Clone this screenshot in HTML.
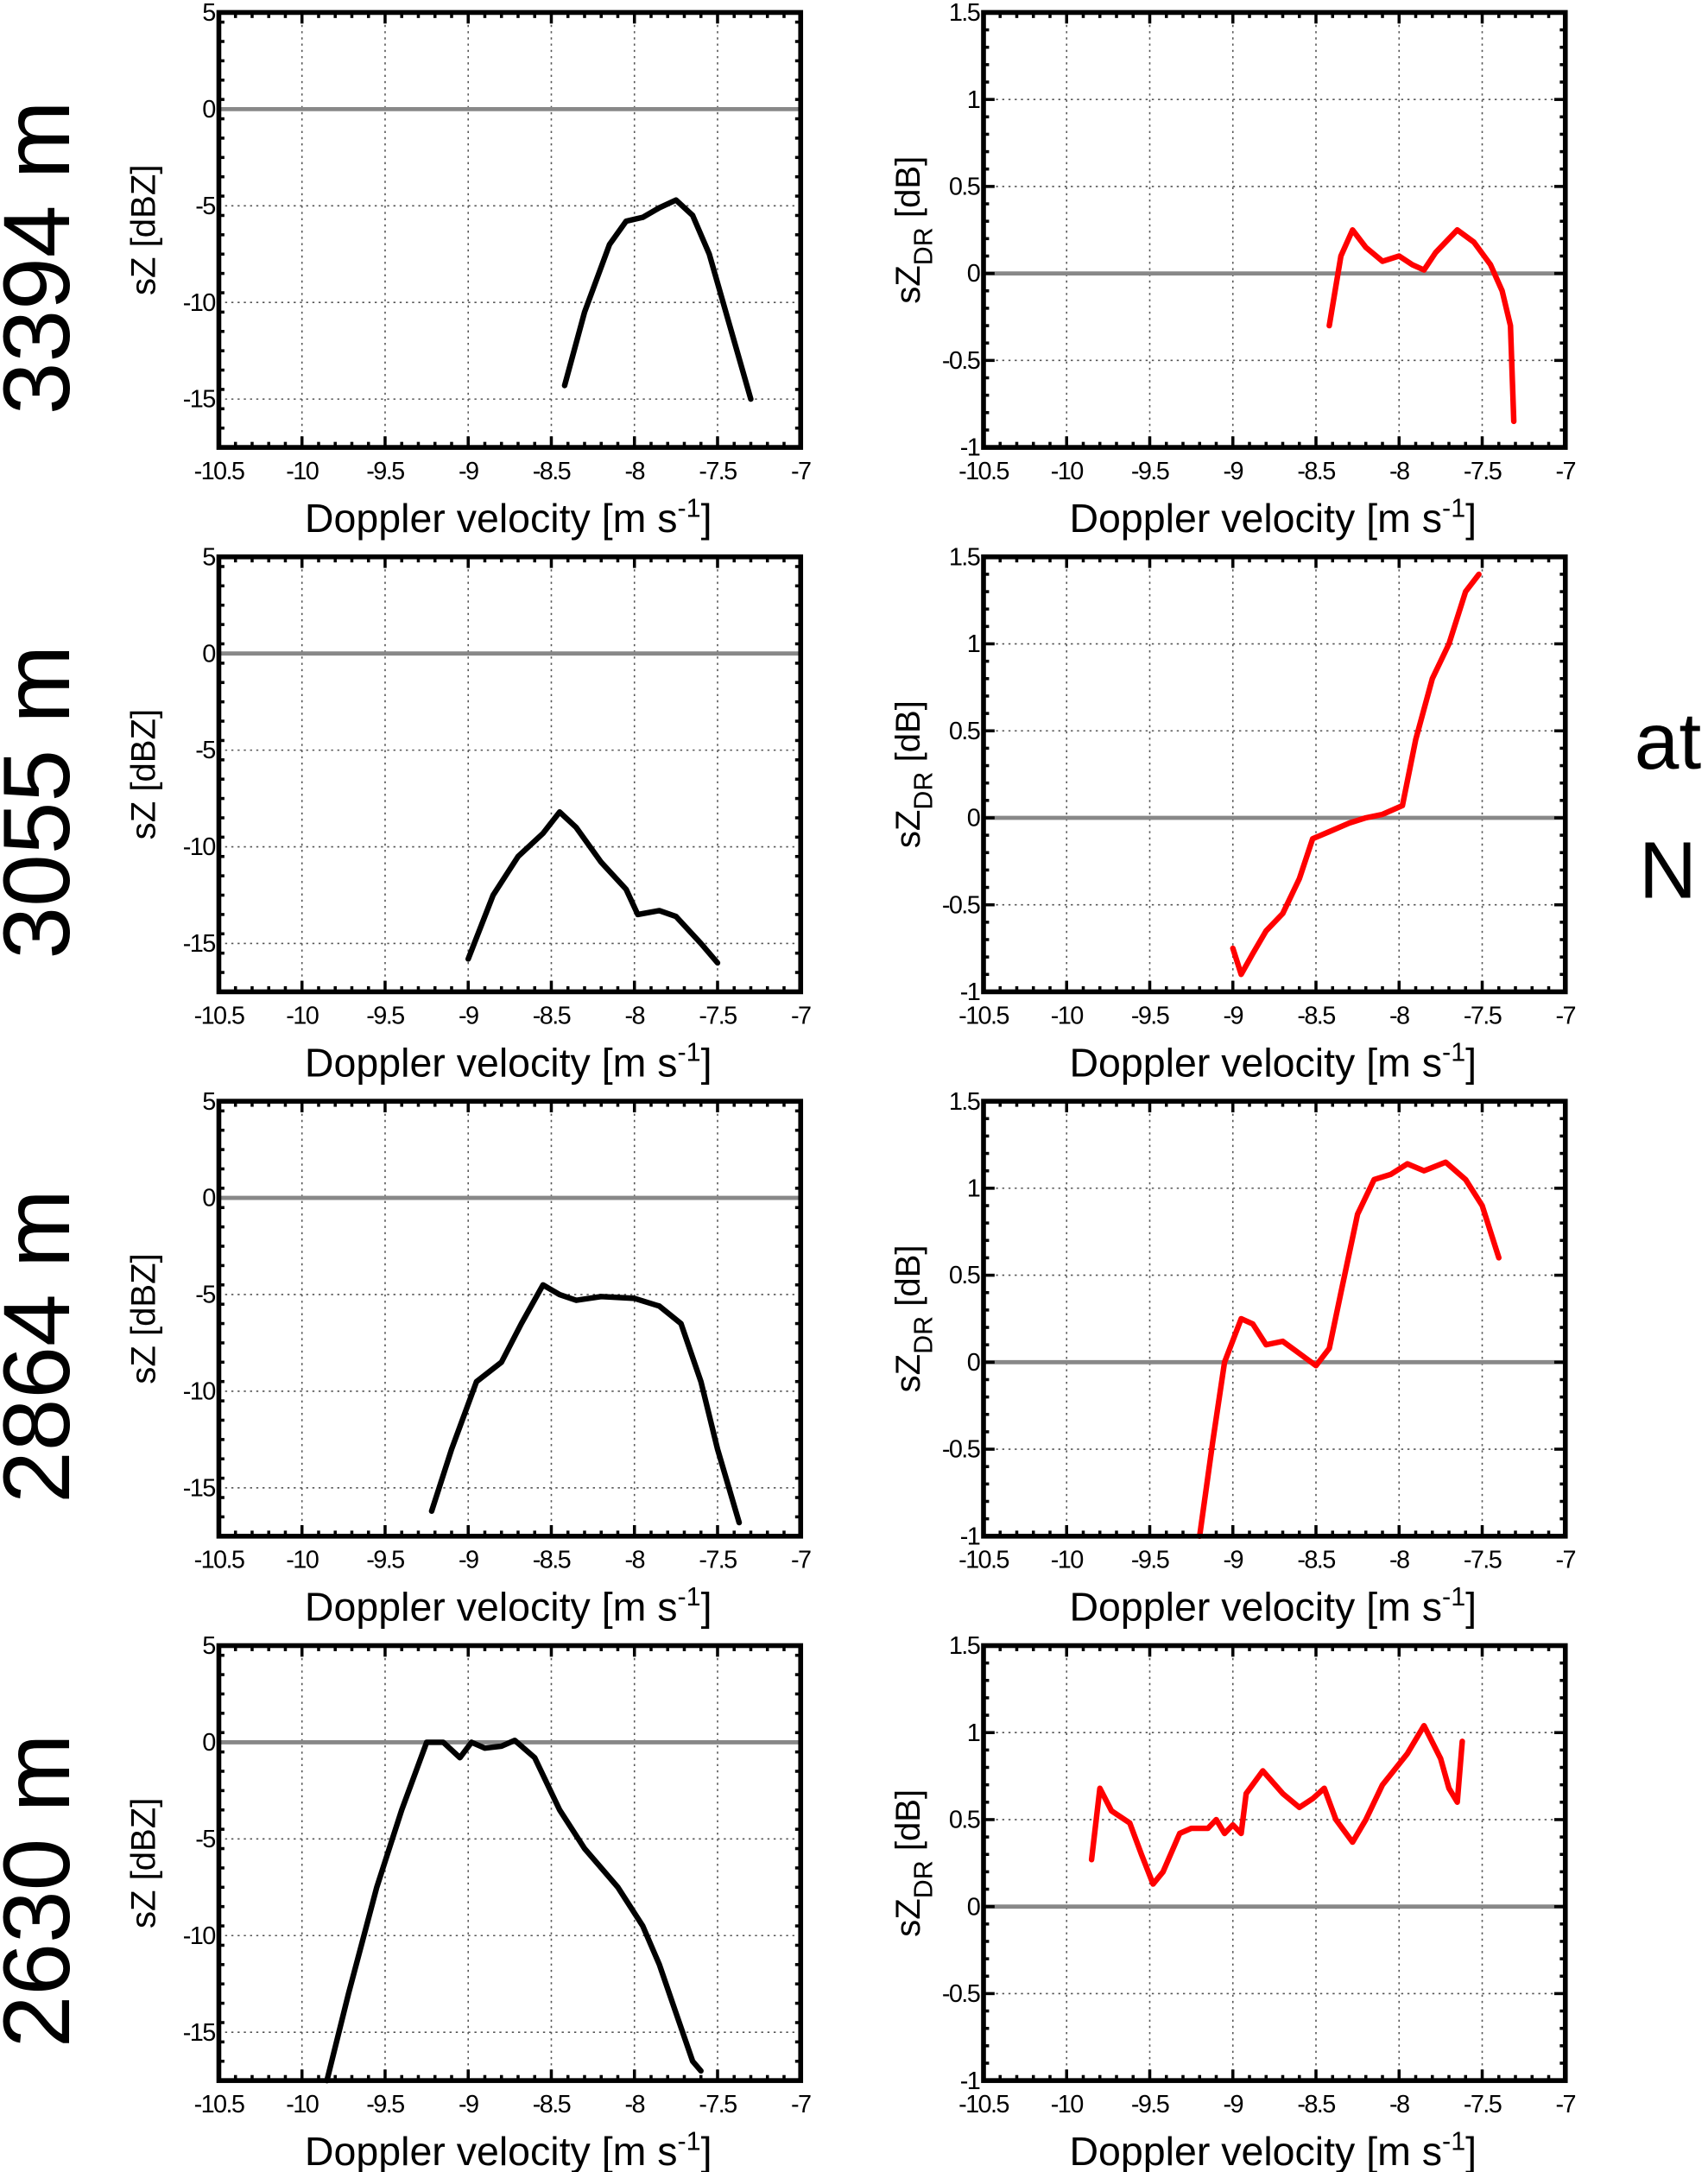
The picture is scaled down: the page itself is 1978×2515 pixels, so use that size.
<!DOCTYPE html>
<html><head><meta charset="utf-8"><style>
html,body{margin:0;padding:0;background:#fff}
svg{display:block}
text{font-family:"Liberation Sans",sans-serif;fill:#000}
</style></head><body>
<svg id="fig" width="1978" height="2515" viewBox="0 0 1233 1568" preserveAspectRatio="none" xmlns="http://www.w3.org/2000/svg">
<g>
<text transform="translate(50,186) rotate(-90)" text-anchor="middle" font-size="68">3394 m</text>
<text transform="translate(50,579) rotate(-90)" text-anchor="middle" font-size="68">3055 m</text>
<text transform="translate(50,972) rotate(-90)" text-anchor="middle" font-size="68">2864 m</text>
<text transform="translate(50,1365) rotate(-90)" text-anchor="middle" font-size="68">2630 m</text>
<text x="1204" y="555" text-anchor="middle" font-size="58">at</text>
<text x="1204" y="648" text-anchor="middle" font-size="58">N</text>
</g>
</svg>
<script>
// ---- data ----
const xTicks = [-10.5,-10,-9.5,-9,-8.5,-8,-7.5,-7];
const xTickLabels = ["-10.5","-10","-9.5","-9","-8.5","-8","-7.5","-7"];
const szTicks = [5,0,-5,-10,-15];
const szTickLabels = ["5","0","-5","-10","-15"];
const zdrTicks = [1.5,1,0.5,0,-0.5,-1];
const zdrTickLabels = ["1.5","1","0.5","0","-0.5","-1"];

const sz1x = [-8.42,-8.3,-8.15,-8.05,-7.95,-7.85,-7.75,-7.65,-7.55,-7.45,-7.3];
const sz1y = [-14.3,-10.5,-7,-5.8,-5.6,-5.1,-4.7,-5.5,-7.5,-10.5,-15];
const zdr1x = [-8.42,-8.35,-8.28,-8.2,-8.1,-8.0,-7.92,-7.85,-7.78,-7.65,-7.55,-7.45,-7.38,-7.33,-7.31];
const zdr1y = [-0.3,0.1,0.25,0.15,0.07,0.1,0.05,0.02,0.12,0.25,0.18,0.05,-0.1,-0.3,-0.85];

const sz2x = [-9.0,-8.85,-8.7,-8.55,-8.45,-8.35,-8.2,-8.05,-7.98,-7.85,-7.75,-7.6,-7.5];
const sz2y = [-15.8,-12.5,-10.5,-9.3,-8.2,-9,-10.8,-12.2,-13.5,-13.3,-13.6,-15,-16];
const zdr2x = [-9.0,-8.95,-8.88,-8.8,-8.7,-8.6,-8.52,-8.42,-8.3,-8.2,-8.1,-7.98,-7.9,-7.8,-7.7,-7.6,-7.52];
const zdr2y = [-0.75,-0.9,-0.78,-0.65,-0.55,-0.35,-0.12,-0.08,-0.03,0.0,0.02,0.07,0.45,0.8,1.0,1.3,1.4];

const sz3x = [-9.22,-9.1,-8.95,-8.8,-8.68,-8.55,-8.45,-8.35,-8.2,-8.0,-7.85,-7.72,-7.6,-7.5,-7.37];
const sz3y = [-16.2,-13,-9.5,-8.5,-6.5,-4.5,-5,-5.3,-5.1,-5.2,-5.6,-6.5,-9.5,-13,-16.8];
const zdr3x = [-9.2,-9.12,-9.05,-8.95,-8.88,-8.8,-8.7,-8.6,-8.5,-8.42,-8.35,-8.25,-8.15,-8.05,-7.95,-7.85,-7.72,-7.6,-7.5,-7.4];
const zdr3y = [-1,-0.45,0.0,0.25,0.22,0.1,0.12,0.05,-0.02,0.08,0.4,0.85,1.05,1.08,1.14,1.1,1.15,1.05,0.9,0.6];

const sz4x = [-9.85,-9.72,-9.55,-9.4,-9.25,-9.15,-9.05,-8.98,-8.9,-8.8,-8.72,-8.6,-8.45,-8.3,-8.1,-7.95,-7.85,-7.75,-7.65,-7.6];
const sz4y = [-17.5,-13,-7.5,-3.5,0,0,-0.8,0,-0.3,-0.2,0.1,-0.8,-3.5,-5.5,-7.5,-9.5,-11.5,-14,-16.5,-17];
const zdr4x = [-9.85,-9.8,-9.73,-9.62,-9.55,-9.48,-9.42,-9.32,-9.25,-9.15,-9.1,-9.05,-9.0,-8.95,-8.92,-8.82,-8.7,-8.6,-8.52,-8.45,-8.38,-8.28,-8.2,-8.1,-7.95,-7.85,-7.75,-7.7,-7.65,-7.62];
const zdr4y = [0.27,0.68,0.55,0.48,0.3,0.13,0.2,0.42,0.45,0.45,0.5,0.42,0.47,0.42,0.65,0.78,0.65,0.57,0.62,0.68,0.5,0.37,0.5,0.7,0.88,1.04,0.85,0.68,0.6,0.95];

const szSeries = [[sz1x,sz1y],[sz2x,sz2y],[sz3x,sz3y],[sz4x,sz4y]];
const zdrSeries = [[zdr1x,zdr1y],[zdr2x,zdr2y],[zdr3x,zdr3y],[zdr4x,zdr4y]];

const NS = "http://www.w3.org/2000/svg";
const svg = document.getElementById('fig');
function mk(tag, attrs, parent){const e=document.createElementNS(NS,tag);for(const k in attrs)e.setAttribute(k,attrs[k]);parent.appendChild(e);return e;}

function panel(left, top, ymin, ymax, yTicks, yLabels, yMinorStep, xs, ys, color, kind, row){
  const W=420,H=314,xmin=-10.5,xmax=-7;
  const sx=v=>left+(v-xmin)/(xmax-xmin)*W;
  const sy=v=>top+(ymax-v)/(ymax-ymin)*H;
  const g=mk('g',{},svg);
  
  
  xTicks.forEach(t=>{ if(t>xmin&&t<xmax){ mk('line',{x1:sx(t),x2:sx(t),y1:top,y2:top+H,stroke:'#555','stroke-width':1,'stroke-dasharray':'1.5 3'},g);} });
  yTicks.forEach(t=>{ if(t>ymin&&t<ymax){ mk('line',{x1:left,x2:left+W,y1:sy(t),y2:sy(t),stroke:'#555','stroke-width':1,'stroke-dasharray':'1.5 3'},g);} });
  const z=mk('line',{x1:left,x2:left+W,y1:sy(0),y2:sy(0),stroke:'#888','stroke-width':3},g);
  
  
  for(let v=xmin;v<=xmax+1e-9;v+=0.1){const X=sx(v);const major=xTicks.some(t=>Math.abs(t-v)<1e-6);const L=major?8:4;
    mk('line',{x1:X,x2:X,y1:top+H,y2:top+H-L,stroke:'#000','stroke-width':2.2},g);
    mk('line',{x1:X,x2:X,y1:top,y2:top+L,stroke:'#000','stroke-width':2.2},g);}
  for(let v=ymin;v<=ymax+1e-9;v+=yMinorStep){const Y=sy(v);const major=yTicks.some(t=>Math.abs(t-v)<1e-6);const L=major?8:4;
    mk('line',{x1:left,x2:left+L,y1:Y,y2:Y,stroke:'#000','stroke-width':2.2},g);
    mk('line',{x1:left+W,x2:left+W-L,y1:Y,y2:Y,stroke:'#000','stroke-width':2.2},g);}
  let d='';xs.forEach((x,i)=>{d+=(i?'L':'M')+sx(x).toFixed(1)+' '+sy(ys[i]).toFixed(1);});
  const p=mk('path',{d:d,fill:'none',stroke:color,'stroke-width':4,'stroke-linejoin':'round','stroke-linecap':'round'},g);
  
  
  mk('rect',{x:left,y:top,width:W,height:H,fill:'none',stroke:'#000','stroke-width':3.5},g);
  xTicks.forEach((t,i)=>{const tx=mk('text',{x:sx(t),y:top+H+23,'text-anchor':'middle','font-size':18,'letter-spacing':'-1'},g);tx.textContent=xTickLabels[i];
    
    });
  yTicks.forEach((t,i)=>{const tx=mk('text',{x:left-3,y:sy(t)+6,'text-anchor':'end','font-size':18,'letter-spacing':'-1'},g);tx.textContent=yLabels[i];
    
    });
  const xt=mk('text',{x:left+W/2-1,y:top+H+61,'text-anchor':'middle','font-size':29},g);
  xt.innerHTML='Doppler velocity [m s<tspan dy="-11" font-size="19">-1</tspan><tspan dy="11">]</tspan>';
  
  
  const yt=mk('text',{transform:'translate('+(left-46)+','+(top+H/2)+') rotate(-90)','text-anchor':'middle','font-size':25},g);
  if(kind==='sz'){yt.textContent='sZ [dBZ]';}
  else{yt.innerHTML='sZ<tspan dy="9" font-size="19">DR</tspan><tspan dy="-9"> [dB]</tspan>';}
  
  
}
for(let r=0;r<4;r++){
  const top=9+r*393;
  panel(158,top,-17.5,5,szTicks,szTickLabels,1,szSeries[r][0],szSeries[r][1],'#000','sz',r+1);
  panel(710,top,-1,1.5,zdrTicks,zdrTickLabels,0.1,zdrSeries[r][0],zdrSeries[r][1],'#f00','zdr',r+1);
}
</script>
</body></html>
